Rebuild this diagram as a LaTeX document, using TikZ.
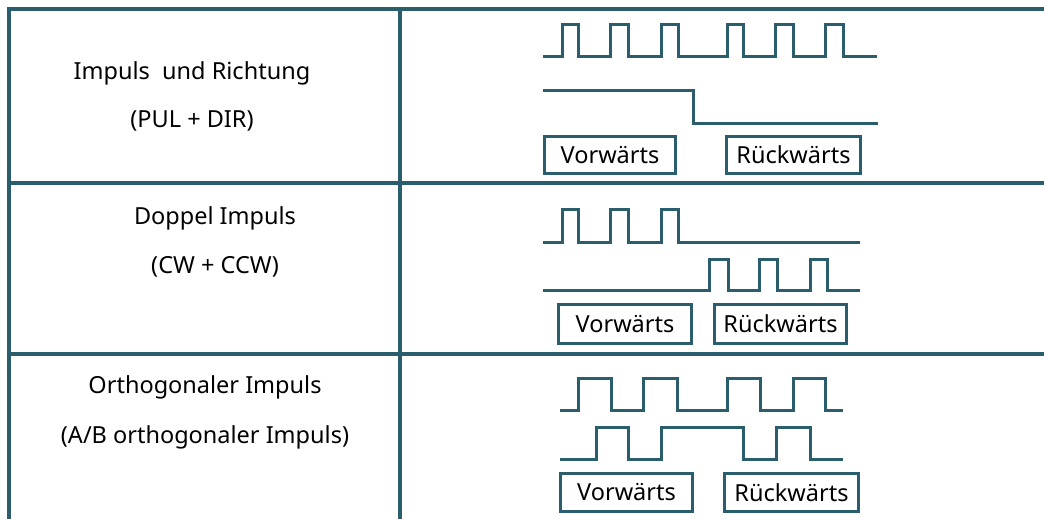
\documentclass[tikz,border=0pt]{standalone}
\usepackage{fontspec}
\setmainfont{Noto Sans}
\usepackage{xcolor}
\usetikzlibrary{positioning}

\definecolor{tealline}{RGB}{43,94,108}

\begin{document}
\begin{tikzpicture}[x=1pt, y=-1pt,
    font=\fontsize{23.5}{28}\selectfont,
    grid/.style={draw=tealline, line width=3.5pt},
    wave/.style={draw=tealline, line width=3pt},
    dirbox/.style={rectangle, draw=tealline, line width=3pt, inner sep=0pt},
    modetext/.style={text=black, inner sep=0pt}]
    \useasboundingbox (0,0) rectangle (1044,519);

    % Table lines
    \draw[grid] (1044,9) -- (9,9) -- (9,519);
    \draw[grid] (400,9) -- (400,519);
    \draw[grid] (9,183) -- (1044,183);
    \draw[grid] (9,354) -- (1044,354);

    % Mode names
    \node[modetext] (pulname) at (192,73) {Impuls\ \ und Richtung};
    \node[modetext] (puldesc) at (192,121) {(PUL + DIR)};
    \node[modetext] (cwname) at (215,218) {Doppel Impuls};
    \node[modetext] (cwdesc) at (215,267) {(CW + CCW)};
    \node[modetext] (abname) at (205,387) {Orthogonaler Impuls};
    \node[modetext] (abdesc) at (205,437) {(A/B orthogonaler Impuls)};

    % Impuls und Richtung
    \draw[wave] (543,57) -| (562,25) -| (578,57) -| (610,25) -| (628,57) -| (661,25) -| (678,57)
        -| (727,25) -| (743,57) -| (775,25) -| (793,57) -| (825,25) -| (843,57) -- (877,57);
    \draw[wave] (543,90) -| (693,123) -- (878,123);
    \node[dirbox, minimum width=131pt, minimum height=37pt] (pulfwd) at (610,155) {Vorwärts};
    \node[dirbox, minimum width=134pt, minimum height=37pt] (pulrev) at (793.5,155) {Rückwärts};

    % Doppel Impuls
    \draw[wave] (543,242) -| (562,209) -| (578,242) -| (610,209) -| (628,242) -| (661,209) -| (678,242) -- (860,242);
    \draw[wave] (543,290) -| (709,259) -| (728,290) -| (759,259) -| (777,290) -| (810,259) -| (827,290) -- (860,290);
    \node[dirbox, minimum width=133pt, minimum height=39pt] (cwfwd) at (625,324) {Vorwärts};
    \node[dirbox, minimum width=132pt, minimum height=39pt] (cwrev) at (780.5,324) {Rückwärts};

    % Orthogonaler Impuls
    \draw[wave] (560,410) -| (578,378) -| (611,410) -| (643,378) -| (677,410)
        -| (727,378) -| (760,410) -| (793,378) -| (825,410) -- (843,410);
    \draw[wave] (560,459) -| (596,427) -| (628,459) -| (661,427) -| (743,459) -| (776,427) -| (810,459) -- (843,459);
    \node[dirbox, minimum width=132pt, minimum height=38pt] (abfwd) at (626.5,492.5) {Vorwärts};
    \node[dirbox, minimum width=134pt, minimum height=38pt] (abrev) at (791.5,492.5) {Rückwärts};
\end{tikzpicture}
\end{document}
